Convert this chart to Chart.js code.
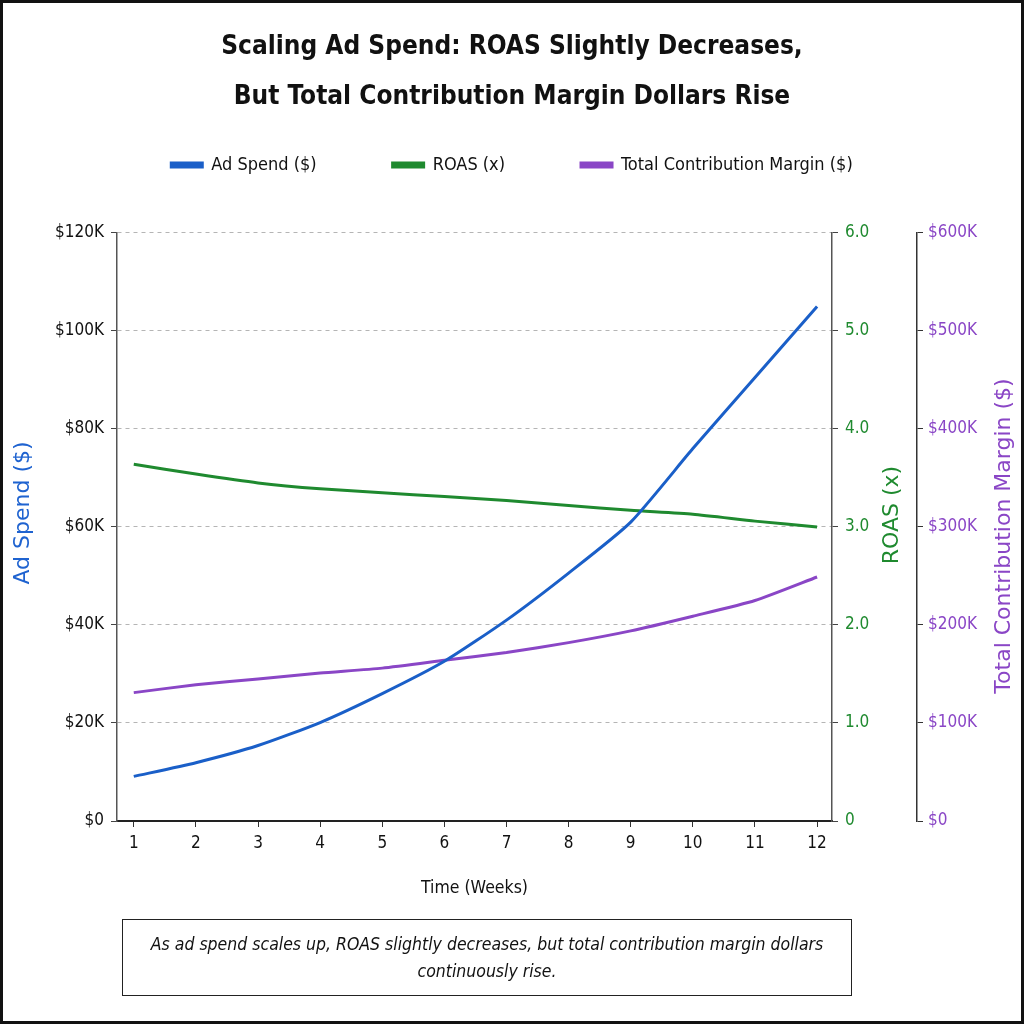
<!DOCTYPE html>
<html><head><meta charset="utf-8">
<script src="https://cdn.jsdelivr.net/npm/chart.js@4.4.1/dist/chart.umd.min.js"></script>
<style>
html,body{margin:0;padding:0;background:#fff;}
#wrap{position:relative;width:1024px;height:1024px;overflow:hidden;}
#frame{position:absolute;left:0;top:0;width:1024px;height:1024px;box-sizing:border-box;border:3px solid #111;pointer-events:none;}
#caption{position:absolute;left:122px;top:919px;width:730px;height:77px;box-sizing:border-box;border:1.5px solid #222;font-family:'DejaVu Sans Condensed','Liberation Sans Narrow',sans-serif;font-style:italic;font-size:17.5px;line-height:27px;text-align:center;display:flex;align-items:center;justify-content:center;color:#111;white-space:nowrap;}
</style></head><body>
<div id="wrap"><canvas id="c" width="1024" height="1024"></canvas>
<div id="caption"><div>As ad spend scales up, ROAS slightly decreases, but total contribution margin dollars<br>continuously rise.</div></div>
<div id="frame"></div></div>
<script>
const weeks = [1,2,3,4,5,6,7,8,9,10,11,12];
const adSpend = [9.1, 11.9, 15.4, 20.1, 26.0, 32.6, 41.0, 50.6, 61.0, 76.0, 90.5, 105.0]; // $K
const roas = [3.64, 3.54, 3.45, 3.39, 3.35, 3.31, 3.27, 3.22, 3.17, 3.13, 3.06, 3.00];
const margin = [131, 139, 145, 151, 156, 164, 172, 182, 194, 209, 225, 249]; // $K
const leftTicks = [0,20,40,60,80,100,120];
const roasTicks = [0,1,2,3,4,5,6];
const marginTicks = [0,100,200,300,400,500,600];

const NARROW = "'DejaVu Sans Condensed','Liberation Sans Narrow',sans-serif";
const SANS = "'DejaVu Sans',sans-serif";
const BLUE = '#1a5fc8', GREEN = '#1f8a2f', PURPLE = '#8a46c6';

const toXY = (arr, mul) => arr.map((v,i)=>({x: weeks[i], y: v*mul}));

const axisTitles = {
  id:'axisTitles',
  afterDraw(chart){
    const ctx = chart.ctx, ca = chart.chartArea, mid = (ca.top+ca.bottom)/2;
    const items = [
      {text:'Ad Spend ($)', color:'#1f63d0', x: chart.scales.y.left + 23, y: mid - 14},
      {text:'ROAS (x)', color:GREEN, x: chart.scales.yRoas.right - 25, y: mid - 12},
      {text:'Total Contribution Margin ($)', color:PURPLE, x: chart.scales.yMargin.right - 20, y: mid + 9}
    ];
    ctx.save();
    ctx.font = "22px " + SANS; ctx.textAlign = 'center'; ctx.textBaseline = 'middle';
    items.forEach(it => {
      ctx.save(); ctx.translate(it.x, it.y); ctx.rotate(-Math.PI/2);
      ctx.fillStyle = it.color; ctx.fillText(it.text, 0, 0); ctx.restore();
    });
    ctx.restore();
  }
};

new Chart(document.getElementById('c'), {
  type: 'line',
  plugins: [axisTitles],
  data: { datasets: [
    {label:'Ad Spend ($)', data: toXY(adSpend,1000), borderColor:BLUE, backgroundColor:BLUE, yAxisID:'y', borderWidth:3, pointRadius:0, tension:0.2},
    {label:'ROAS (x)', data: toXY(roas,1), borderColor:GREEN, backgroundColor:GREEN, yAxisID:'yRoas', borderWidth:3, pointRadius:0, tension:0.2},
    {label:'Total Contribution Margin ($)', data: toXY(margin,1000), borderColor:PURPLE, backgroundColor:PURPLE, yAxisID:'yMargin', borderWidth:3, pointRadius:0, tension:0.2}
  ]},
  options: {
    responsive:false, animation:false,
    layout:{padding:{top:0,left:0,right:0,bottom:119}},
    plugins:{
      tooltip:{enabled:false},
      title:{display:true, text:['Scaling Ad Spend: ROAS Slightly Decreases,','But Total Contribution Margin Dollars Rise'],
        color:'#111', font:{family:NARROW, size:26, weight:'bold', lineHeight:1.923}, padding:{top:22,bottom:-42}},
      legend:{display:true, position:'top', labels:{boxWidth:31, boxHeight:4, padding:76, color:'#111', font:{family:NARROW, size:18}}}
    },
    scales:{
      x:{type:'linear', position:'bottom', min:0.73, max:12.24,
        afterBuildTicks: s => { s.ticks = weeks.map(v=>({value:v})); },
        afterFit: s => { s.height = 84; },
        ticks:{color:'#111', font:{family:NARROW, size:17}, padding:6, callback: v => String(v)},
        grid:{drawOnChartArea:false, drawTicks:true, tickLength:6, tickColor:'#333'},
        border:{display:true, color:'#222', width:2},
        title:{display:true, text:'Time (Weeks)', color:'#111', font:{family:NARROW, size:17.5}, padding:{top:0,bottom:6}}
      },
      xTop:{type:'linear', position:'top', display:true, afterFit: s => { s.height = 49; },
        ticks:{display:false}, grid:{display:false, drawTicks:false}, border:{display:false}},
      y:{type:'linear', position:'left', min:0, max:120000,
        afterBuildTicks: s => { s.ticks = leftTicks.map(v=>({value:v*1000})); },
        afterFit: s => { s.width = 117; },
        ticks:{color:'#111', font:{family:NARROW, size:17}, padding:7, callback: v => v===0 ? '$0' : '$'+(v/1000)+'K'},
        grid:{drawOnChartArea:true, color:'#b5b5b5', lineWidth:1, tickLength:6, tickColor:'#444'},
        border:{display:true, color:'#555', width:1.5, dash:[4,4]},
        title:{display:false}
      },
      yRoas:{type:'linear', position:'right', min:0, max:6,
        afterBuildTicks: s => { s.ticks = roasTicks.map(v=>({value:v})); },
        afterFit: s => { s.width = 85; },
        ticks:{color:GREEN, font:{family:NARROW, size:17}, padding:7, callback: v => v===0 ? '0' : v.toFixed(1)},
        grid:{drawOnChartArea:false, tickLength:6, tickColor:'#444'},
        border:{display:true, color:'#555', width:1.5},
        title:{display:false}
      },
      yMargin:{type:'linear', position:'right', min:0, max:600000,
        afterBuildTicks: s => { s.ticks = marginTicks.map(v=>({value:v*1000})); },
        afterFit: s => { s.width = 107; },
        ticks:{color:PURPLE, font:{family:NARROW, size:17}, padding:5, callback: v => v===0 ? '$0' : '$'+(v/1000)+'K'},
        grid:{drawOnChartArea:false, tickLength:6, tickColor:'#333'},
        border:{display:true, color:'#333', width:1.5},
        title:{display:false}
      }
    }
  }
});
</script>
</body></html>
